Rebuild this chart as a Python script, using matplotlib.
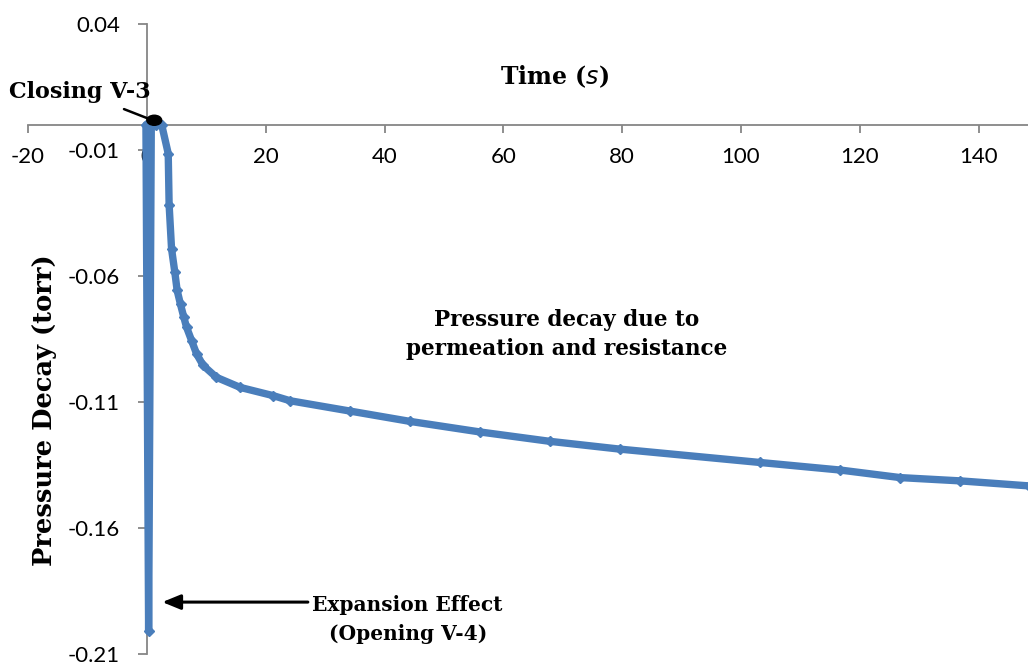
import numpy as np
import matplotlib
matplotlib.use('Agg')
import matplotlib.pyplot as plt
from matplotlib.patches import Ellipse

plt.rcParams['axes.unicode_minus'] = False

# Pressure trace (time in s, pressure change in torr)
time_s = [-0.15, 0.3, 0.75, 1.6, 2.5, 3.6, 3.75, 4.16, 4.71, 5.10, 5.67, 6.23,
          6.68, 7.53, 8.37, 9.48, 11.7, 15.7, 21.3, 24.1, 34.2, 44.3, 56.1,
          67.8, 79.6, 103.2, 116.7, 126.8, 136.9, 148.5]
decay_torr = [0.0, -0.201, 0.0, 0.0, 0.0, -0.0114, -0.0317, -0.0492, -0.0585,
              -0.0657, -0.0713, -0.0764, -0.0803, -0.0856, -0.0909, -0.0955,
              -0.1002, -0.1042, -0.1075, -0.1095, -0.1136, -0.1177, -0.1219,
              -0.1256, -0.1287, -0.1340, -0.1370, -0.1400, -0.1413, -0.1433]

XTICKS = [-20, 0, 20, 40, 60, 80, 100, 120, 140]
YTICKS = [0.04, -0.01, -0.06, -0.11, -0.16, -0.21]
YTICK_LABELS = ['0.04', '-0.01', '-0.06', '-0.11', '-0.16', '-0.21']

BLUE = '#4A7EBB'
GREY = '#868686'
SERIF = 'DejaVu Serif'
SANS = 'Lato'

fig = plt.figure(figsize=(10.28, 6.65), dpi=100)
ax = fig.add_axes([28 / 1028., 11 / 665., 1000 / 1028., 630 / 665.])

ax.plot(time_s, decay_torr, color=BLUE, lw=5.3, marker='D', ms=5.5,
        solid_joinstyle='round', solid_capstyle='round', zorder=3)

ax.set_xlim(-20, 148.3)
ax.set_ylim(-0.21, 0.04)

# axes cross at the origin, Excel style
ax.spines['left'].set_position(('data', 0))
ax.spines['bottom'].set_position(('data', 0))
ax.spines['top'].set_visible(False)
ax.spines['right'].set_visible(False)
for s in ['left', 'bottom']:
    ax.spines[s].set_color(GREY)
    ax.spines[s].set_linewidth(1.3)

ax.set_xticks(XTICKS)
ax.set_xticklabels([str(v) for v in XTICKS])
ax.set_yticks(YTICKS)
ax.set_yticklabels(YTICK_LABELS)
ax.tick_params(axis='x', direction='out', length=6, width=1.3, color=GREY,
               pad=10, labelsize=16)
ax.tick_params(axis='y', direction='out', length=6.5, width=1.3, color=GREY,
               pad=13, labelsize=16)
for lab in ax.get_xticklabels() + ax.get_yticklabels():
    lab.set_family(SANS)

# axis titles
ax.text(68.7, 0.0189, r'Time ($\mathbf{\mathit{s}}$)', family=SERIF,
        weight='bold', fontsize=17, ha='center', va='center')
fig.text(45 / 1028., 1 - 410 / 665., 'Pressure Decay (torr)', family=SERIF,
         weight='bold', fontsize=18.5, rotation=90, ha='center', va='center')

# valve closing marker
ax.add_patch(Ellipse((1.25, 0.0018), 2.5, 0.004, color='black', zorder=4))
ax.annotate('Closing V-3', xy=(0.2, 0.0025), xytext=(-11.3, 0.0131),
            family=SERIF, weight='bold', fontsize=16, ha='center',
            va='center',
            arrowprops=dict(arrowstyle='-', color='black', lw=1.8,
                            shrinkA=7, shrinkB=0))

# expansion spike
ax.annotate('', xy=(2.6, -0.1894), xytext=(27.1, -0.1894),
            arrowprops=dict(arrowstyle='-|>,head_length=1.1,head_width=0.45',
                            color='black', lw=2.2, shrinkA=0, shrinkB=0))
ax.text(43.9, -0.1962, 'Expansion Effect\n(Opening V-4)', family=SERIF,
        weight='bold', fontsize=14.5, ha='center', va='center',
        linespacing=1.55)

ax.text(70.7, -0.0832, 'Pressure decay due to\npermeation and resistance',
        family=SERIF, weight='bold', fontsize=15.5, ha='center', va='center',
        linespacing=1.4)

fig.savefig('out.png', dpi=100)
